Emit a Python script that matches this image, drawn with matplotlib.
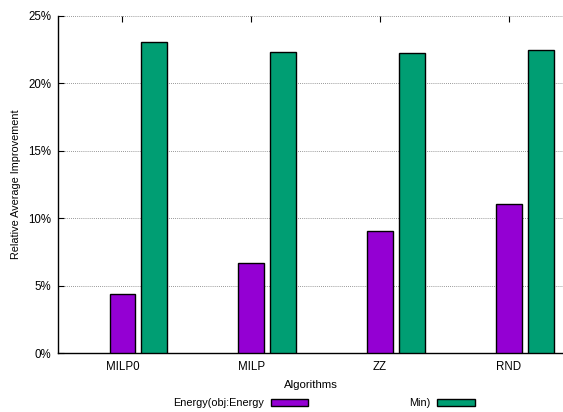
import matplotlib
matplotlib.use("Agg")
import matplotlib.pyplot as plt
import numpy as np

plt.rcParams['font.family'] = ['Liberation Sans', 'DejaVu Sans']

algorithms = ["MILP0", "MILP", "ZZ", "RND"]
energy = [4.4, 6.65, 9.07, 11.05]
min_vals = [23.1, 22.3, 22.25, 22.45]
series_labels = ["Energy(obj:Energy", "Min)"]
yticks = [0, 5, 10, 15, 20, 25]

purple = "#9400d3"
green = "#009e73"

fig = plt.figure(figsize=(5.63, 4.12), dpi=100)
ax = fig.add_axes([58 / 563, 59 / 412, 1 - 58 / 563, 337 / 412])

x = np.arange(len(algorithms))
width = 0.2
offset = 0.247
ax.bar(x, energy, width, color=purple, edgecolor="black", linewidth=1.0,
       label=series_labels[0], zorder=3)
ax.bar(x + offset, min_vals, width, color=green, edgecolor="black", linewidth=1.0,
       label=series_labels[1], zorder=3)

ax.set_xlim(-0.5, 3.42)
ax.set_ylim(0, 25)
ax.set_yticks(yticks)
ax.set_yticklabels([f"{v}%" for v in yticks], fontsize=8.3)
ax.set_xticks(x)
ax.set_xticklabels(algorithms, fontsize=8.3)

ax.grid(axis="y", linestyle=(0, (1, 1.5)), color="#777777", linewidth=0.6, zorder=0)
for s in ["top", "right"]:
    ax.spines[s].set_visible(False)
ax.spines["left"].set_linewidth(1.0)
ax.spines["bottom"].set_linewidth(1.0)
ax.tick_params(axis="y", direction="in", length=4, width=0.8, pad=5)
ax.tick_params(axis="x", direction="in", length=4, width=0.8, pad=6,
               top=True, bottom=True)

ax.set_ylabel("Relative Average Improvement", fontsize=7.8, labelpad=5)
ax.set_xlabel("Algorithms", fontsize=8.2, labelpad=5)

fig.legend(loc="center", bbox_to_anchor=(324 / 563, 1 - 403 / 412), ncol=2,
           frameon=False, fontsize=7.8, markerfirst=False, handlelength=3.5,
           handleheight=0.6, handletextpad=0.6, columnspacing=9.3)

fig.savefig("out.png", dpi=100)
